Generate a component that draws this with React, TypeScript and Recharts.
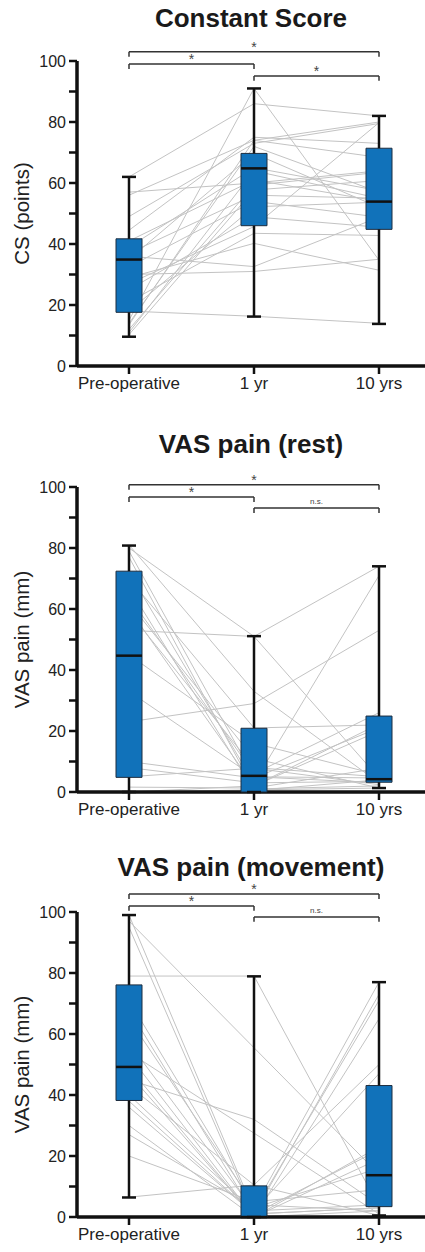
import { ComposedChart, Line, XAxis, YAxis, ReferenceArea, ReferenceLine } from 'recharts';

const timepoints = ['Pre-operative', '1 yr', '10 yrs'];
const yTicks = [0, 10, 20, 30, 40, 50, 60, 70, 80, 90, 100];

// Constant Score, one entry per patient (pre-op, 1 yr, 10 yrs)
const csPre = [62, 57, 56, 49, 44.5, 41, 39, 37, 35, 32.5, 30, 25, 21, 18, 15, 13.5, 12, 10.3, 29, 18, 27, 36, 11, 14];
const cs1yr = [86, 60, 74, 73, 75, 61, 65, 56, 69.7, 54, 31, 48.9, 43.5, 16.3, 91, 74, 59.3, 57.7, 40.2, 52.2, 45.7, 32.6, 64, 72];
const cs10yr = [82, 64, 80, 79.5, 73, 54, 57.5, 55, 52, 48.8, 35, 45.5, 42.8, 14, 34.7, 68.4, 63.5, 60.8, 31.4, 53.7, 79.8, 48.8, 55, 57];
const csBoxes = [
  { min: 9.6, q1: 17.6, med: 34.9, q3: 41.7, max: 62 },
  { min: 16.2, q1: 46, med: 64.8, q3: 69.7, max: 91 },
  { min: 13.8, q1: 44.8, med: 53.9, q3: 71.4, max: 82 },
];

// VAS pain at rest
const restPre = [81, 79, 77, 72, 70, 67, 64, 62, 60, 59, 53, 33, 23, 10, 8, 1.6, 0, 45, 5, 0, 80];
const rest1yr = [33, 5, 1, 3, 21, 0.5, 6, 11, 2, 8, 51, 5, 29, 4.6, 3, 1.3, 0.7, 16, 7.8, 2, 51];
const rest10yr = [3, 3, 2, 71, 22, 4, 26, 1.3, 20, 5, 74, 4.6, 53, 21, 3.5, 7.8, 1.3, 5.6, 2.4, 22.3, 4.6];
const restBoxes = [
  { min: 0, q1: 4.8, med: 44.7, q3: 72.4, max: 80.8 },
  { min: 0, q1: 0, med: 5.3, q3: 20.9, max: 51.1 },
  { min: 1.3, q1: 3.2, med: 4.2, q3: 24.9, max: 74 },
];

// VAS pain during movement (null = missing 1 yr value)
const movePre = [99, 97, 95, 79, 71, 68, 65, 57, 54, 49, 45, 43, 40, 36, 30, 27, 20, 6.5, 53, 47, 38];
const move1yr = [2, null, 1, 79, 3, 1, 4, 2, null, 0, 32, 10.5, 2, 1, 0, 3, 5, 10.5, 0, 0, 1];
const move10yr = [4, 14, 3, 3.5, 77, 73, 2, 71, 1, 65, 4, 50, 47, 22, 19, 16, 9, 0.5, 2, 23, 3];
const moveBoxes = [
  { min: 6.4, q1: 38.2, med: 49.2, q3: 76.1, max: 99 },
  { min: 0, q1: 0, med: 0, q3: 10.2, max: 78.9 },
  { min: 0.5, q1: 3.4, med: 13.7, q3: 43.1, max: 77 },
];

type Box = { min: number; q1: number; med: number; q3: number; max: number };
type Bracket = { from: number; to: number; y: number; text: string };

const csBrackets: Bracket[] = [
  { from: 0, to: 2, y: 103, text: '*' },
  { from: 0, to: 1, y: 99, text: '*' },
  { from: 1, to: 2, y: 95.1, text: '*' },
];
const restBrackets: Bracket[] = [
  { from: 0, to: 2, y: 100.7, text: '*' },
  { from: 0, to: 1, y: 96.7, text: '*' },
  { from: 1, to: 2, y: 93.1, text: 'n.s.' },
];
const moveBrackets: Bracket[] = [
  { from: 0, to: 2, y: 105.9, text: '*' },
  { from: 0, to: 1, y: 102, text: '*' },
  { from: 1, to: 2, y: 98.4, text: 'n.s.' },
];

const FONT = '"Liberation Sans", Arial, sans-serif';
const HALF_BOX = 0.104;
const HALF_CAP = 0.056;
const X_DOMAIN: [number, number] = [-0.416, 2.368];
const W = 425;
const H = 396;

function renderBox(b: Box, c: number) {
  const k = `box-${c}`;
  return [
    <ReferenceLine key={k + 'lw'} segment={[{ x: c, y: b.min }, { x: c, y: b.q1 }]} stroke="#111" strokeWidth={2.5} ifOverflow="visible" />,
    <ReferenceLine key={k + 'uw'} segment={[{ x: c, y: b.q3 }, { x: c, y: b.max }]} stroke="#111" strokeWidth={2.5} ifOverflow="visible" />,
    <ReferenceLine key={k + 'lc'} segment={[{ x: c - HALF_CAP, y: b.min }, { x: c + HALF_CAP, y: b.min }]} stroke="#111" strokeWidth={2.5} ifOverflow="visible" />,
    <ReferenceLine key={k + 'uc'} segment={[{ x: c - HALF_CAP, y: b.max }, { x: c + HALF_CAP, y: b.max }]} stroke="#111" strokeWidth={2.5} ifOverflow="visible" />,
    <ReferenceArea key={k + 'a'} x1={c - HALF_BOX} x2={c + HALF_BOX} y1={b.q1} y2={b.q3} fill="#1172ba" fillOpacity={1} stroke="#1d2d3f" strokeWidth={1} ifOverflow="visible" />,
    <ReferenceLine key={k + 'm'} segment={[{ x: c - HALF_BOX, y: b.med }, { x: c + HALF_BOX, y: b.med }]} stroke="#111" strokeWidth={2.5} ifOverflow="visible" />,
  ];
}

function renderBracket(br: Bracket, i: number) {
  const drop = 1.6;
  const small = br.text !== '*';
  return [
    <ReferenceLine
      key={`br${i}`}
      segment={[{ x: br.from, y: br.y }, { x: br.to, y: br.y }]}
      stroke="#333"
      strokeWidth={1.5}
      ifOverflow="visible"
      label={{
        value: br.text,
        position: 'top',
        offset: small ? 4 : 0,
        fill: '#444',
        fontSize: small ? 8 : 14,
        fontFamily: FONT,
      }}
    />,
    <ReferenceLine key={`brl${i}`} segment={[{ x: br.from, y: br.y }, { x: br.from, y: br.y - drop }]} stroke="#333" strokeWidth={1.5} ifOverflow="visible" />,
    <ReferenceLine key={`brr${i}`} segment={[{ x: br.to, y: br.y }, { x: br.to, y: br.y - drop }]} stroke="#333" strokeWidth={1.5} ifOverflow="visible" />,
  ];
}

interface PanelProps {
  top: number;
  title: string;
  titleTop: number;
  yLabel: string;
  pre: (number | null)[];
  one: (number | null)[];
  ten: (number | null)[];
  boxes: Box[];
  brackets: Bracket[];
}

function Panel({ top, title, titleTop, yLabel, pre, one, ten, boxes, brackets }: PanelProps) {
  return (
    <div style={{ position: 'absolute', top, left: 0, width: W, height: H }}>
      <div
        style={{
          position: 'absolute',
          top: titleTop,
          left: 77,
          width: 348,
          textAlign: 'center',
          fontFamily: FONT,
          fontWeight: 'bold',
          fontSize: 26,
          lineHeight: '26px',
          color: '#1a1a1a',
        }}
      >
        {title}
      </div>
      {/* patient lines and axes */}
      <div style={{ position: 'absolute', top: 0, left: 0 }}>
        <ComposedChart width={W} height={H} margin={{ top: 61, right: 0, bottom: 0, left: 0 }}>
          <XAxis
            type="number"
            dataKey="x"
            domain={X_DOMAIN}
            allowDataOverflow
            ticks={[0, 1, 2]}
            tickFormatter={(v: number) => timepoints[v] ?? ''}
            axisLine={{ stroke: '#111', strokeWidth: 3.5 }}
            tickLine={{ stroke: '#111', strokeWidth: 2.5 }}
            tickSize={8}
            tickMargin={3}
            tick={{ fill: '#222', fontSize: 17, fontFamily: FONT }}
            height={30}
            interval={0}
          />
          <YAxis
            type="number"
            domain={[0, 100]}
            allowDataOverflow
            ticks={yTicks}
            tickFormatter={(v: number) => (v % 20 === 0 ? String(v) : '')}
            axisLine={{ stroke: '#111', strokeWidth: 3.5 }}
            tickLine={{ stroke: '#111', strokeWidth: 2.5 }}
            tickSize={8}
            tickMargin={3}
            tick={{ fill: '#222', fontSize: 16, fontFamily: FONT }}
            width={77}
            interval={0}
            label={{
              content: (props: any) => {
                const vb = props.viewBox || { x: 0, y: 61, width: 77, height: 305 };
                const cx = 21;
                const cy = vb.y + vb.height / 2;
                return (
                  <text
                    x={cx}
                    y={cy}
                    transform={`rotate(-90 ${cx} ${cy})`}
                    textAnchor="middle"
                    dominantBaseline="central"
                    fontSize={20.5}
                    fontFamily={FONT}
                    fill="#222"
                  >
                    {yLabel}
                  </text>
                );
              },
            }}
          />
          {pre.map((_, i) => (
            <Line
              key={`p${i}`}
              data={[
                { x: 0, y: pre[i] },
                { x: 1, y: one[i] },
                { x: 2, y: ten[i] },
              ]}
              dataKey="y"
              stroke="#c3c3c3"
              strokeWidth={1}
              dot={false}
              activeDot={false}
              connectNulls
              isAnimationActive={false}
            />
          ))}
        </ComposedChart>
      </div>
      {/* boxes and significance brackets on top */}
      <div style={{ position: 'absolute', top: 0, left: 0 }}>
        <ComposedChart width={W} height={H} margin={{ top: 61, right: 0, bottom: 30, left: 77 }}>
          <XAxis type="number" dataKey="x" domain={X_DOMAIN} allowDataOverflow hide />
          <YAxis type="number" domain={[0, 100]} allowDataOverflow hide />
          {boxes.map((b, c) => renderBox(b, c))}
          {brackets.map((br, i) => renderBracket(br, i))}
        </ComposedChart>
      </div>
    </div>
  );
}

export default function App() {
  return (
    <div style={{ position: 'absolute', top: 0, left: 0, width: W, height: 1252, background: '#fff' }}>
      <Panel top={0} titleTop={5} title="Constant Score" yLabel="CS (points)" pre={csPre} one={cs1yr} ten={cs10yr} boxes={csBoxes} brackets={csBrackets} />
      <Panel top={426} titleTop={5} title="VAS pain (rest)" yLabel="VAS pain (mm)" pre={restPre} one={rest1yr} ten={rest10yr} boxes={restBoxes} brackets={restBrackets} />
      <Panel top={851} titleTop={3} title="VAS pain (movement)" yLabel="VAS pain (mm)" pre={movePre} one={move1yr} ten={move10yr} boxes={moveBoxes} brackets={moveBrackets} />
    </div>
  );
}
